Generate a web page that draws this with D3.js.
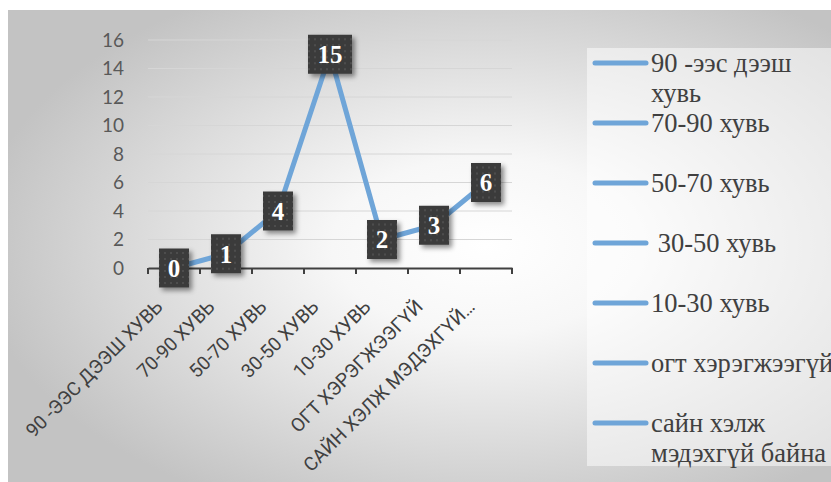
<!DOCTYPE html>
<html>
<head>
<meta charset="utf-8">
<script src="https://cdn.jsdelivr.net/npm/d3@7"></script>
<style>
html,body{margin:0;padding:0;background:#fff;}
svg{display:block;}
</style>
</head>
<body>
<svg id="chart" width="831" height="482"></svg>
<script>
const categories = ["90 -ЭЭС ДЭЭШ ХУВЬ","70-90 ХУВЬ","50-70 ХУВЬ","30-50 ХУВЬ","10-30 ХУВЬ","ОГТ ХЭРЭГЖЭЭГҮЙ","САЙН ХЭЛЖ МЭДЭХГҮЙ…"];
const values = [0,1,4,15,2,3,6];
const legendLabels = [["90 -ээс дээш","хувь"],["70-90 хувь"],["50-70 хувь"],[" 30-50 хувь"],["10-30 хувь"],["огт хэрэгжээгүй"],["сайн хэлж","мэдэхгүй байна"]];
const yTicks = [0,2,4,6,8,10,12,14,16];

const svg = d3.select("#chart");
const W = 831, H = 482;
const defs = svg.append("defs");

const rg = defs.append("radialGradient").attr("id","bg").attr("cx","0.58").attr("cy","0.5").attr("r","0.62");
rg.append("stop").attr("offset","0").attr("stop-color","#ffffff");
rg.append("stop").attr("offset","0.3").attr("stop-color","#f7f7f7");
rg.append("stop").attr("offset","1").attr("stop-color","#c3c3c3");

const pat = defs.append("pattern").attr("id","dots").attr("patternUnits","userSpaceOnUse").attr("width",6).attr("height",6);
pat.append("rect").attr("width",6).attr("height",6).attr("fill","#3b3b3b");
pat.append("circle").attr("cx",3).attr("cy",3).attr("r",0.9).attr("fill","#555555");

const sh = defs.append("filter").attr("id","shadow").attr("x","-30%").attr("y","-30%").attr("width","170%").attr("height","170%");
sh.append("feDropShadow").attr("dx",3).attr("dy",3).attr("stdDeviation",2.5).attr("flood-color","#000").attr("flood-opacity",0.45);

// background
svg.append("rect").attr("x",8).attr("y",10).attr("width",W-8).attr("height",H-10).attr("fill","url(#bg)");
// legend panel
svg.append("rect").attr("x",587).attr("y",48).attr("width",W-587).attr("height",418).attr("fill","#ffffff").attr("opacity",0.5);

const plot = {left:148, right:512, top:40, bottom:268};
const x = d3.scaleBand().domain(categories).range([plot.left, plot.right]);
const y = d3.scaleLinear().domain([0,16]).range([plot.bottom, plot.top]);

// gridlines
svg.append("g").selectAll("line").data(yTicks.filter(d=>d>0)).join("line")
  .attr("x1",plot.left).attr("x2",plot.right)
  .attr("y1",d=>y(d)).attr("y2",d=>y(d))
  .attr("stroke","#d6d6d6").attr("stroke-width",1);

// y axis labels
const yAxis = d3.axisLeft(y).tickValues(yTicks).tickSize(0).tickPadding(24);
const gy = svg.append("g").attr("transform",`translate(${plot.left},0)`).call(yAxis);
gy.select(".domain").remove();
gy.selectAll("text").attr("font-family","Lato, 'Open Sans', sans-serif").attr("font-size",19).attr("fill","#595959");

// x axis
const xAxis = d3.axisBottom(x).tickSize(0).tickFormat("");
const gx = svg.append("g").attr("transform",`translate(0,${plot.bottom})`).call(xAxis);
gx.select(".domain").attr("stroke","#404040").attr("stroke-width",2);
gx.selectAll(".tick").remove();
const edges = categories.map(c=>x(c)).concat([plot.right]);
gx.selectAll("line.edge").data(edges).join("line").attr("class","edge")
  .attr("x1",d=>d).attr("x2",d=>d).attr("y1",0).attr("y2",6)
  .attr("stroke","#404040").attr("stroke-width",2);

svg.append("g").selectAll("text").data(categories).join("text")
  .attr("transform",d=>`translate(${x(d)+x.bandwidth()/2-10},${plot.bottom+40}) rotate(-45)`)
  .attr("text-anchor","end")
  .attr("font-family","Roboto, sans-serif").attr("font-size",19).attr("fill","#404040")
  .text(d=>d);

// line
const line = d3.line().x((d,i)=>x(categories[i])+x.bandwidth()/2).y(d=>y(d));
svg.append("path").datum(values).attr("d",line).attr("fill","none")
  .attr("stroke","#6fa5d8").attr("stroke-width",5).attr("stroke-linejoin","round");

// data labels
const lbl = svg.append("g").selectAll("g").data(values).join("g")
  .attr("transform",(d,i)=>`translate(${x(categories[i])+x.bandwidth()/2},${y(d)})`);
lbl.append("rect")
  .attr("x",d=>String(d).length>1?-22:-15).attr("width",d=>String(d).length>1?44:30)
  .attr("y",-19.5).attr("height",39)
  .attr("fill","url(#dots)").attr("filter","url(#shadow)");
lbl.append("text").attr("text-anchor","middle").attr("dy","0.35em")
  .attr("font-family","'Liberation Serif', serif").attr("font-weight","bold").attr("font-size",25)
  .attr("fill","#ffffff").text(d=>d);

// legend
const leg = svg.append("g").selectAll("g").data(legendLabels).join("g")
  .attr("transform",(d,i)=>`translate(0,${63+i*60})`);
leg.append("line").attr("x1",595).attr("x2",646).attr("y1",0).attr("y2",0)
  .attr("stroke","#6fa5d8").attr("stroke-width",5).attr("stroke-linecap","round");
leg.each(function(d){
  const t = d3.select(this).append("text").attr("font-family","'Liberation Serif', serif")
    .attr("font-size",26.5).attr("fill","#404040").attr("xml:space","preserve").style("white-space","pre");
  d.forEach((s,j)=>{
    t.append("tspan").attr("x",651).attr("y",9+j*30).text(s);
  });
});
</script>
</body>
</html>
